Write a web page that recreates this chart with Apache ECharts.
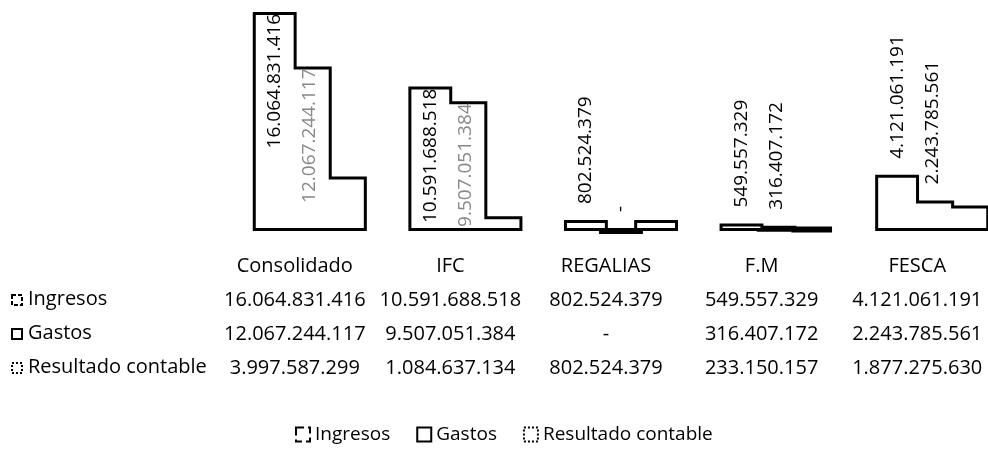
<!DOCTYPE html>
<html>
<head>
<meta charset="utf-8">
<script src="https://cdn.jsdelivr.net/npm/echarts@6.0.0/dist/echarts.min.js"></script>
<style>
html,body{margin:0;padding:0;background:#fff;}
#chart{width:988px;height:451px;}
</style>
</head>
<body>
<div id="chart"></div>
<script>
// ---- data ----
const categories = ['Consolidado', 'IFC', 'REGALIAS', 'F.M', 'FESCA'];
const seriesNames = ['Ingresos', 'Gastos', 'Resultado contable'];
const ingresos = [16064831416, 10591688518, 802524379, 549557329, 4121061191];
const gastos = [12067244117, 9507051384, 0, 316407172, 2243785561];
const resultado = [3997587299, 1084637134, 802524379, 233150157, 1877275630];

// ---- helpers ----
const values = [ingresos, gastos, resultado];
const FONT = '"Open Sans", "Noto Sans", sans-serif';
const YMAX = 16.5e9;
const fmt = v => v === 0 ? '-' : String(v).replace(/\B(?=(\d{3})+(?!\d))/g, '.');
const borderTypes = ['dashed', 'solid', 'dotted'];

const TABLE_TOP = 248;
const LINE_H = 34;
const BAR_GAP = '-20%';
const CAT_GAP = '26.7%';
const EDGE = 6;

const series = [];
// outline layer (stroke drawn inside each bar)
values.forEach((vals, si) => {
  series.push({
    type: 'bar', name: seriesNames[si], xAxisIndex: 0, yAxisIndex: 0,
    data: vals, barGap: BAR_GAP, barCategoryGap: CAT_GAP,
    itemStyle: { color: '#fff', borderColor: '#000', borderWidth: EDGE },
    z: 2, silent: true, animation: false
  });
});
// white fill layer: hides inner half of the outline and the seams between adjacent bars
values.forEach((vals, si) => {
  series.push({
    type: 'bar', name: seriesNames[si], xAxisIndex: 1, yAxisIndex: 0,
    barGap: BAR_GAP, barCategoryGap: CAT_GAP,
    itemStyle: { color: '#fff', borderColor: 'rgba(0,0,0,0)', borderWidth: EDGE },
    z: 3, silent: true, animation: false,
    data: vals.map(v => {
      const inside = v > YMAX * 0.4;
      return {
        value: v,
        label: si < 2 ? {
          show: true,
          position: inside ? 'insideTop' : 'top',
          distance: inside ? 2 : 16,
          rotate: 90,
          align: inside ? 'right' : 'left',
          verticalAlign: 'middle',
          fontFamily: FONT, fontSize: 19,
          color: (inside && si === 1) ? '#888' : '#000',
          formatter: p => fmt(p.value)
        } : { show: false }
      };
    })
  });
});

// row headers of the data table
const graphic = [];
seriesNames.forEach((n, i) => {
  const cy = TABLE_TOP + (i + 1) * LINE_H + LINE_H / 2;
  graphic.push({
    type: 'rect', left: 11, top: cy - 5, shape: { width: 10, height: 10 },
    style: { fill: '#fff', stroke: '#000', lineWidth: 2, lineDash: borderTypes[i] === 'solid' ? null : (borderTypes[i] === 'dashed' ? [4, 2] : [2, 2]) }
  });
  graphic.push({
    type: 'text', x: 28, y: cy,
    style: { text: n, fontFamily: FONT, fontSize: 20, fill: '#000', verticalAlign: 'middle', align: 'left' }
  });
});

const option = {
  backgroundColor: '#fff',
  animation: false,
  grid: [
    { left: 232, width: 778, top: 6, height: 225, outerBoundsMode: 'none', containLabel: false },
    { left: 217, width: 778, top: TABLE_TOP - 8, height: 1, outerBoundsMode: 'none', containLabel: false }
  ],
  xAxis: [
    { type: 'category', data: categories, gridIndex: 0, show: false },
    { type: 'category', data: categories, gridIndex: 0, show: false },
    {
      type: 'category', data: categories, gridIndex: 1,
      axisLine: { show: false }, axisTick: { show: false }, splitLine: { show: false },
      axisLabel: {
        interval: 0, margin: 8, fontFamily: FONT, fontSize: 20, lineHeight: LINE_H, color: '#000',
        formatter: (name, idx) => [name].concat(values.map(vals => fmt(vals[idx]))).join('\n')
      }
    }
  ],
  yAxis: [
    { type: 'value', gridIndex: 0, min: 0, max: YMAX, show: false },
    { type: 'value', gridIndex: 1, show: false }
  ],
  legend: {
    left: 295, top: 425, padding: 0,
    icon: 'rect', itemWidth: 14, itemHeight: 14, itemGap: 26,
    itemStyle: { color: '#fff', borderColor: '#000', borderWidth: 2 },
    textStyle: { fontFamily: FONT, fontSize: 19, color: '#000' },
    data: seriesNames.map((n, i) => ({ name: n, itemStyle: { borderType: borderTypes[i] } }))
  },
  graphic: graphic,
  series: series
};

const chart = echarts.init(document.getElementById('chart'), null, { renderer: 'canvas' });
chart.setOption(option);
</script>
</body>
</html>
